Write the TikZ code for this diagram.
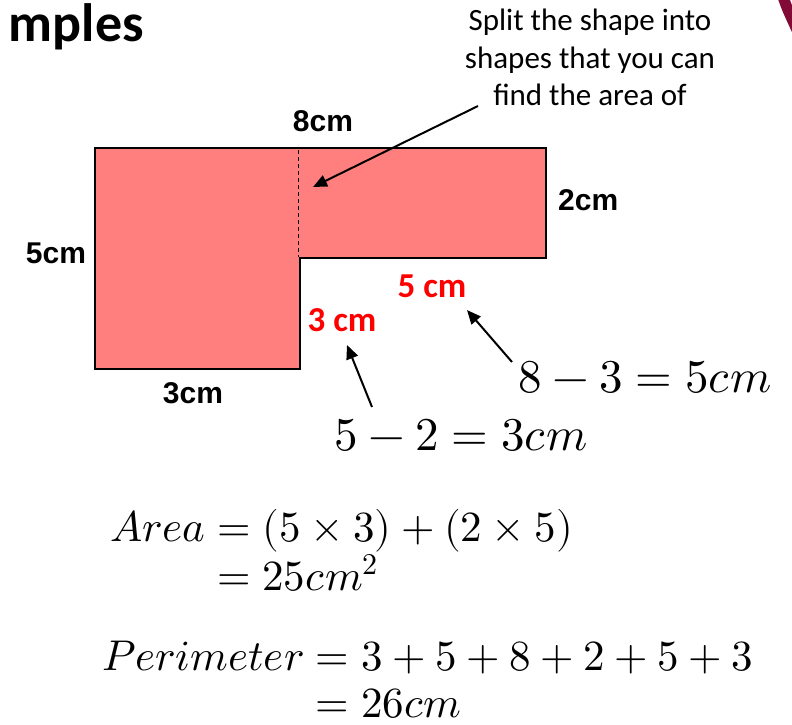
\documentclass[tikz,border=0pt]{standalone}
\usepackage{fontspec}
\usepackage{unicode-math}
\setmainfont{Carlito}
\newfontfamily\arialfont{Liberation Sans}
\usetikzlibrary{arrows.meta, positioning}
\definecolor{ShapeRed}{RGB}{255,127,127}
\definecolor{LabelRed}{RGB}{255,0,0}
\definecolor{SlideMaroon}{RGB}{130,10,55}

\begin{document}
\begin{tikzpicture}[x=1pt, y=-1pt,
          dim/.style={font=\fontsize{30}{36}\selectfont\arialfont\bfseries, inner sep=0pt},
          redlab/.style={font=\fontsize{35}{40}\selectfont\bfseries, text=LabelRed,
                         inner sep=0pt, anchor=base},
          eqn/.style={font=\fontsize{43}{50}\selectfont, inner sep=0pt, anchor=base west},
          arr/.style={-{Triangle[length=14pt, width=12pt]}, line width=2pt}
        ]
        \useasboundingbox (0,0) rectangle (792,724);

        % slide corner
        \draw[SlideMaroon, line width=11pt] (781,-10) .. controls (786,6) .. (798,32);

        % title
        \node[font=\fontsize{54}{62}\selectfont\bfseries, anchor=base east, inner sep=0pt]
              (title) at (144,41) {mples};

        % compound shape
        \draw[line width=2pt, fill=ShapeRed]
              (95,148) -- (546,148) -- (546,258) -- (300,258) -- (300,369) -- (95,369) -- cycle;
        \draw[line width=1pt, dash pattern=on 4pt off 3pt] (298,150) -- (298,257);

        % given sides
        \node[dim, anchor=base] (top) at (323,131) {8cm};
        \node[dim, anchor=base west] (right) at (558,210) {2cm};
        \node[dim, anchor=base] (left) at (56,263) {5cm};
        \node[dim, anchor=base] (bottom) at (193,403) {3cm};

        % missing sides
        \node[redlab] (miss5) at (432,297) {5 cm};
        \node[redlab] (miss3) at (342,331) {3 cm};

        % hint
        \node[font=\fontsize{31}{37.5}\selectfont, align=center, anchor=north, inner sep=0pt]
              (hint) at (590,9) {Split the shape into\\shapes that you can\\find the area of};
        \coordinate (hinttail) at (478,106);
        \coordinate (hinttip) at (313,187);
        \draw[arr] (hinttail) -- (hinttip);

        % working out
        \node[eqn, font=\fontsize{47}{54}\selectfont] (sub5) at (518,392) {$8-3=5cm$};
        \node[eqn, font=\fontsize{47}{54}\selectfont] (sub3) at (334,450) {$5-2=3cm$};
        \coordinate (sub5tail) at (512,362);
        \coordinate (miss5tip) at (467,310);
        \coordinate (sub3tail) at (372,407);
        \coordinate (miss3tip) at (347,345);
        \draw[arr] (sub5tail) -- (miss5tip);
        \draw[arr] (sub3tail) -- (miss3tip);

        % area and perimeter
        \node[eqn] (area) at (110,541) {$Area=(5\times3)+(2\times5)$};
        \node[eqn] (area2) at (110,590) {$\phantom{Area}{}=25cm^2$};
        \node[eqn] (peri) at (102,670) {$Perimeter=3+5+8+2+5+3$};
        \node[eqn] (peri2) at (102,717) {$\phantom{Perimeter}{}=26cm$};
      \end{tikzpicture}
\end{document}
